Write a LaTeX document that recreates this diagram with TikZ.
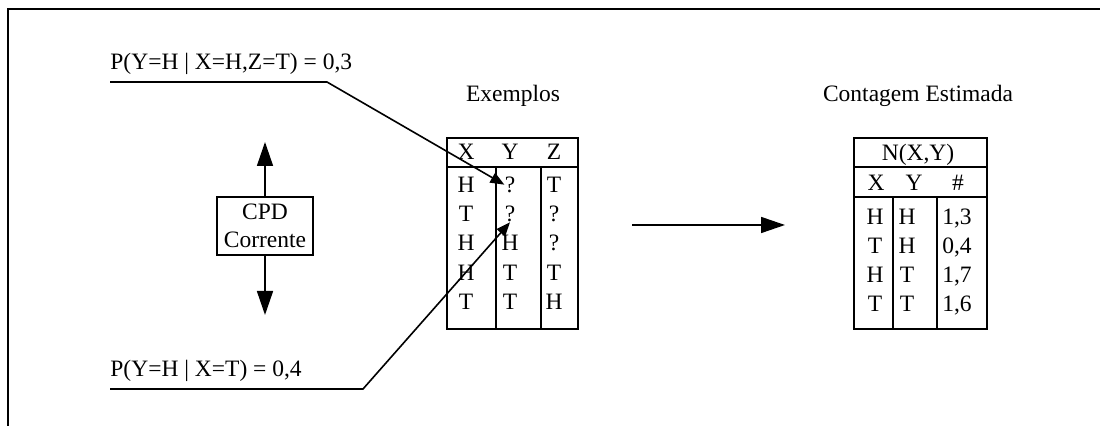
\documentclass[tikz,border=0pt]{standalone}
\usepackage{fontspec}
\setmainfont{Liberation Serif}
\usetikzlibrary{arrows.meta,positioning}
\tikzset{
  cell/.style={anchor=base, inner sep=0pt},
  title/.style={anchor=base, inner sep=0pt},
  cpdbox/.style={draw, line width=0.8pt, align=center, minimum width=48pt,
    minimum height=29pt, inner sep=2pt},
  grid/.style={line width=1.1pt},
  bigarr/.style={-{Triangle[length=12pt, width=8pt]}, line width=0.8pt},
  ptr/.style={-{Triangle[length=7pt, width=5.5pt]}, line width=0.8pt},
  frameline/.style={line width=1.3pt}
}
\begin{document}
\begin{tikzpicture}[x=0.5pt,y=-0.5pt, font=\fontsize{11.75}{14}\selectfont]
  \useasboundingbox (0,0) rectangle (1100,426);
  \draw[frameline] (8,426) -- (8,9) -- (1100,9);

  % CPD corrente
  \node[cpdbox] (cpd) at (265,226) {CPD\\Corrente};
  \coordinate (cpd-up) at (265,142);
  \coordinate (cpd-down) at (265,315);
  \draw[bigarr] (cpd) -- (cpd-up);
  \draw[bigarr] (cpd) -- (cpd-down);

  % exemplos
  \node[title] (ex-title) at (513,102) {Exemplos};
  \draw[grid] (447,138) rectangle (578,329);
  \draw[grid] (447,167) -- (578,167);
  \draw[grid] (496,167) -- (496,329) (541,167) -- (541,329);
  \node[cell] (ex-hx) at (466,160) {X};
  \node[cell] (ex-hy) at (510,160) {Y};
  \node[cell] (ex-hz) at (554,160) {Z};
  \foreach \a/\b/\c [count=\r] in {H/?/T, T/?/?, H/H/?, H/T/T, T/T/H}{
    \node[cell] (ex-x\r) at (466,{163+29.3*\r}) {\a};
    \node[cell] (ex-y\r) at (510,{163+29.3*\r}) {\b};
    \node[cell] (ex-z\r) at (554,{163+29.3*\r}) {\c};
  }

  % probabilidades
  \node[cell, anchor=base west] (p1) at (110,70) {P(Y=H | X=H,Z=T) = 0,3};
  \coordinate (p1-bend) at (327,82);
  \draw[ptr] (p1.west |- p1-bend) -- (p1-bend) -- (ex-y1.west);
  \node[cell, anchor=base west] (p2) at (110,377) {P(Y=H | X=T) = 0,4};
  \coordinate (p2-bend) at (363,389);
  \draw[ptr] (p2.west |- p2-bend) -- (p2-bend) -- (ex-y2.south);

  % seta entre as tabelas
  \coordinate (est-from) at (632,225);
  \coordinate (est-to) at (785,225);
  \draw[bigarr] (est-from) -- (est-to);

  % contagem estimada
  \node[title] (ct-title) at (918,102) {Contagem Estimada};
  \draw[grid] (854,138) rectangle (987,329);
  \draw[grid] (854,167) -- (987,167) (854,197) -- (987,197);
  \draw[grid] (893,197) -- (893,329) (937,197) -- (937,329);
  \node[cell] (ct-n) at (918,161) {N(X,Y)};
  \node[cell] (ct-hx) at (876,191) {X};
  \node[cell] (ct-hy) at (914,191) {Y};
  \node[cell] (ct-hc) at (958,191) {\#};
  \foreach \a/\b/\c [count=\r] in {H/H/1{,}3, T/H/0{,}4, H/T/1{,}7, T/T/1{,}6}{
    \node[cell] (ct-x\r) at (875,{196+29*\r}) {\a};
    \node[cell] (ct-y\r) at (907,{196+29*\r}) {\b};
    \node[cell] (ct-c\r) at (957,{196+29*\r}) {\c};
  }
\end{tikzpicture}
\end{document}
